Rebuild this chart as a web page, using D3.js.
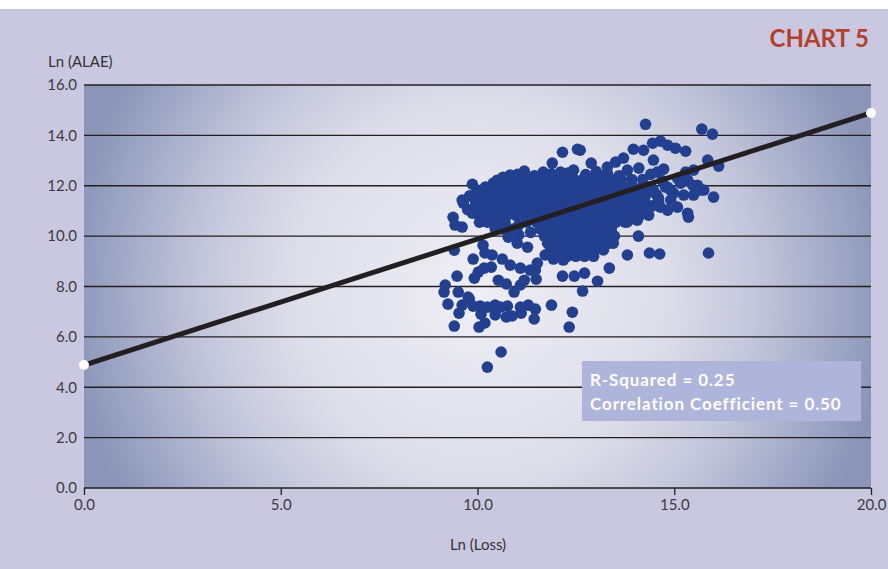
<!DOCTYPE html>
<html>
<head>
<meta charset="utf-8">
<script src="https://cdn.jsdelivr.net/npm/d3@7"></script>
<style>
  html, body { margin: 0; padding: 0; background: #ffffff; }
  #chart { width: 888px; height: 569px; }
  text { font-family: Lato, "Open Sans", sans-serif; }
</style>
</head>
<body>
<div id="chart"></div>
<script>
// Ln(Loss) vs Ln(ALAE)
const yTicks = [0, 2, 4, 6, 8, 10, 12, 14, 16];
const xTicks = [0, 5, 10, 15, 20];

// fitted line end points
const trendX = [0, 20];
const trendY = [4.88, 14.89];

const statLines = ["R-Squared = 0.25", "Correlation Coefficient = 0.50"];

// dense core of the cloud, one row per level of Ln(ALAE)
const coreRows = [
  [12.25, [10.70, 10.92, 11.15, 11.36, 11.58, 11.80, 12.02, 12.25, 12.45, 12.68, 12.90, 13.15, 13.40, 13.65, 13.92, 14.20]],
  [11.95, [10.20, 10.42, 10.63, 10.85, 11.05, 11.28, 11.50, 11.70, 11.93, 12.15, 12.38, 12.60, 12.82, 13.05, 13.28, 13.50, 13.72, 13.95, 14.18, 14.40]],
  [11.65, [10.05, 10.27, 10.50, 10.72, 10.95, 11.15, 11.38, 11.60, 11.82, 12.05, 12.27, 12.48, 12.70, 12.93, 13.15, 13.38, 13.60, 13.82, 14.05, 14.28, 14.55]],
  [11.38, [9.95, 10.18, 10.40, 10.62, 10.85, 11.07, 11.30, 11.52, 11.75, 11.97, 12.20, 12.42, 12.65, 12.87, 13.10, 13.32, 13.55, 13.78, 14.00, 14.25, 14.60]],
  [11.10, [9.90, 10.12, 10.35, 10.58, 10.80, 11.02, 11.25, 11.48, 11.70, 11.92, 12.15, 12.37, 12.60, 12.82, 13.05, 13.28, 13.50, 13.72, 13.95, 14.20]],
  [10.82, [10.05, 10.30, 10.52, 10.75, 10.98, 11.20, 11.42, 11.65, 11.88, 12.10, 12.33, 12.55, 12.78, 13.00, 13.22, 13.45, 13.68, 13.90, 14.12]],
  [10.55, [10.25, 10.48, 10.70, 11.25, 11.50, 11.72, 11.95, 12.18, 12.40, 12.62, 12.85, 13.08, 13.30, 13.52, 13.75]],
  [10.28, [10.65, 10.90, 11.60, 11.82, 12.05, 12.28, 12.50, 12.72, 12.95, 13.18, 13.40]],
  [10.00, [11.70, 11.92, 12.15, 12.38, 12.60, 12.82, 13.05, 13.28, 13.48]],
  [9.72, [11.78, 12.00, 12.22, 12.45, 12.68, 12.90, 13.12, 13.35]],
  [9.45, [11.85, 12.08, 12.30, 12.52, 12.75, 12.98, 13.20]],
  [9.20, [12.05, 12.28, 12.50, 12.72, 12.95]]
];

// scattered points around the core [Ln(Loss), Ln(ALAE)]
const outerPoints = [
  [9.89, 9.09], [9.41, 9.44], [9.48, 8.41], [9.18, 8.06], [9.15, 7.78], [9.51, 7.78],
  [9.25, 7.30], [9.53, 6.94], [9.41, 6.43], [9.79, 7.50], [9.61, 7.26], [9.89, 7.22],
  [10.07, 7.22], [10.25, 7.18], [10.45, 7.26], [10.58, 7.18], [10.76, 7.22], [10.09, 6.90],
  [10.19, 6.55], [10.04, 6.39], [10.45, 6.87], [10.73, 6.79], [10.88, 6.83], [11.09, 7.18],
  [11.29, 7.26], [11.47, 7.10], [11.11, 6.94], [11.44, 6.71], [11.88, 7.26], [12.41, 6.98],
  [12.33, 6.39], [9.92, 8.33], [10.02, 8.57], [10.17, 8.73], [10.35, 8.77], [10.53, 8.25],
  [10.73, 8.10], [10.93, 7.78], [11.09, 8.06], [11.19, 8.25], [11.49, 8.29], [11.47, 8.65],
  [11.52, 8.93], [12.16, 8.41], [12.46, 8.41], [12.72, 8.53], [13.05, 8.21], [12.67, 7.82],
  [13.35, 8.73], [13.45, 9.72], [10.60, 5.40], [10.25, 4.80], [14.09, 10.00], [13.81, 9.25],
  [14.37, 9.33], [14.63, 9.29], [15.87, 9.33], [9.38, 10.75], [9.43, 10.44], [9.61, 10.36],
  [9.87, 10.91], [9.64, 11.31], [10.14, 9.64], [10.19, 9.33], [10.37, 9.25], [10.78, 9.96],
  [10.63, 9.09], [10.83, 8.85], [11.09, 8.73], [11.01, 9.72], [11.27, 9.56], [9.76, 7.58],
  [11.34, 8.65], [11.72, 9.25], [11.93, 9.09], [12.18, 9.05], [9.61, 11.43], [9.87, 12.06],
  [9.99, 11.83], [10.32, 11.83], [10.50, 12.22], [10.65, 12.34], [10.83, 12.42], [11.19, 12.58],
  [11.67, 12.54], [12.11, 12.54], [12.44, 12.62], [11.90, 12.90], [12.16, 13.33], [12.54, 13.45],
  [12.61, 13.41], [12.89, 12.90], [13.71, 13.10], [13.51, 12.94], [13.30, 12.74], [13.81, 12.62],
  [13.96, 13.45], [14.22, 13.41], [14.45, 13.69], [14.65, 13.77], [14.83, 13.61], [15.03, 13.49],
  [15.29, 13.37], [14.27, 14.44], [15.70, 14.25], [15.97, 14.05], [15.85, 13.02], [16.13, 12.78],
  [14.47, 13.02], [14.73, 12.66], [14.57, 12.54], [15.29, 12.54], [15.34, 12.22], [15.47, 12.02],
  [15.67, 11.83], [16.00, 11.55], [15.08, 12.30], [15.16, 12.10], [15.24, 11.63], [14.91, 11.83],
  [14.78, 11.94], [15.49, 11.63], [15.75, 11.83], [15.59, 12.02], [15.49, 12.62], [14.98, 11.71],
  [14.91, 11.43], [14.47, 11.83], [14.83, 11.94], [15.34, 10.91], [15.36, 10.75], [15.08, 11.15],
  [14.83, 11.03], [14.65, 11.15], [14.35, 10.83], [14.06, 10.63], [13.81, 10.56], [14.40, 12.45],
  [14.10, 12.70], [13.60, 12.40], [13.30, 12.50], [14.70, 12.20], [14.60, 11.50], [14.45, 11.20],
  [11.02, 12.45], [11.45, 12.40], [11.88, 12.47], [12.30, 12.50], [12.75, 12.44], [13.02, 12.56],
  [10.40, 12.10], [9.80, 11.60], [9.75, 11.05], [10.05, 10.55], [10.45, 10.30], [11.05, 10.45],
  [11.35, 10.15], [11.05, 10.05]
];

const points = outerPoints.concat(
  coreRows.flatMap(([alae, losses]) => losses.map(loss => [loss, alae]))
);

const width = 888;
const height = 569;
const plot = { left: 84, right: 871, top: 85, bottom: 488 };

const svg = d3.select("#chart")
  .append("svg")
  .attr("width", width)
  .attr("height", height);

// page background
svg.append("rect")
  .attr("x", 0).attr("y", 9)
  .attr("width", width).attr("height", height - 9)
  .attr("fill", "#cac8e1");

const x = d3.scaleLinear().domain([0, 20]).range([plot.left, plot.right]);
const y = d3.scaleLinear().domain([0, 16]).range([plot.bottom, plot.top]);

// radial shading of plot area
const defs = svg.append("defs");
const grad = defs.append("radialGradient")
  .attr("id", "plotbg")
  .attr("gradientUnits", "userSpaceOnUse")
  .attr("cx", 478).attr("cy", 290).attr("r", 410);
[[0, "#efeef6"], [0.45, "#dedeea"], [0.68, "#c3c6da"], [0.85, "#a5acc9"], [1, "#8a95b8"]]
  .forEach(([o, c]) => grad.append("stop").attr("offset", o).attr("stop-color", c));

svg.append("rect")
  .attr("x", plot.left).attr("y", plot.top)
  .attr("width", plot.right - plot.left)
  .attr("height", plot.bottom - plot.top)
  .attr("fill", "url(#plotbg)");

// horizontal grid
svg.append("g")
  .selectAll("line")
  .data(yTicks)
  .enter().append("line")
  .attr("x1", plot.left).attr("x2", plot.right)
  .attr("y1", d => y(d)).attr("y2", d => y(d))
  .attr("stroke", "#231f20")
  .attr("stroke-width", 1.3);

// y axis labels
const yAxis = svg.append("g")
  .attr("transform", `translate(${plot.left},0)`)
  .call(d3.axisLeft(y).tickValues(yTicks).tickSize(0).tickPadding(7).tickFormat(d3.format(".1f")));
yAxis.select(".domain").remove();
yAxis.selectAll("text")
  .style("font-size", "15px")
  .style("font-family", "Lato, sans-serif")
  .attr("fill", "#3b3b3b");

// x axis
const xAxis = svg.append("g")
  .attr("transform", `translate(0,${plot.bottom})`)
  .call(d3.axisBottom(x).tickValues(xTicks).tickSize(7).tickPadding(4).tickFormat(d3.format(".1f")));
xAxis.select(".domain").remove();
xAxis.selectAll("line").attr("stroke", "#231f20").attr("stroke-width", 1.3);
xAxis.selectAll("text")
  .style("font-size", "15px")
  .style("font-family", "Lato, sans-serif")
  .attr("fill", "#3b3b3b");

// points
svg.append("g")
  .selectAll("circle")
  .data(points)
  .enter().append("circle")
  .attr("cx", d => x(d[0]))
  .attr("cy", d => y(d[1]))
  .attr("r", 5.8)
  .attr("fill", "#22408f");

// trend line
const trend = trendX.map((v, i) => [v, trendY[i]]);
svg.append("path")
  .datum(trend)
  .attr("fill", "none")
  .attr("stroke", "#231f20")
  .attr("stroke-width", 5)
  .attr("d", d3.line().x(d => x(d[0])).y(d => y(d[1])));
svg.append("g")
  .selectAll("circle")
  .data(trend)
  .enter().append("circle")
  .attr("cx", d => x(d[0]))
  .attr("cy", d => y(d[1]))
  .attr("r", 5)
  .attr("fill", "#ffffff");

// stats box
svg.append("rect")
  .attr("x", 582).attr("y", 361)
  .attr("width", 279).attr("height", 60)
  .attr("fill", "#afb4db");
svg.append("g")
  .selectAll("text")
  .data(statLines)
  .enter().append("text")
  .attr("x", 590)
  .attr("y", (d, i) => 386 + i * 24)
  .attr("fill", "#ffffff")
  .style("font-size", "17px")
  .style("letter-spacing", "0.9px")
  .style("font-weight", "bold")
  .text(d => d);

// titles
svg.append("text")
  .attr("x", 869).attr("y", 47)
  .attr("text-anchor", "end")
  .attr("fill", "#b5402b")
  .style("font-size", "24px")
  .style("font-weight", "bold")
  .text("CHART 5");

svg.append("text")
  .attr("x", 48).attr("y", 67)
  .attr("fill", "#333333")
  .style("font-size", "15px")
  .text("Ln (ALAE)");

svg.append("text")
  .attr("x", 478).attr("y", 550)
  .attr("text-anchor", "middle")
  .attr("fill", "#333333")
  .style("font-size", "15px")
  .text("Ln (Loss)");
</script>
</body>
</html>
